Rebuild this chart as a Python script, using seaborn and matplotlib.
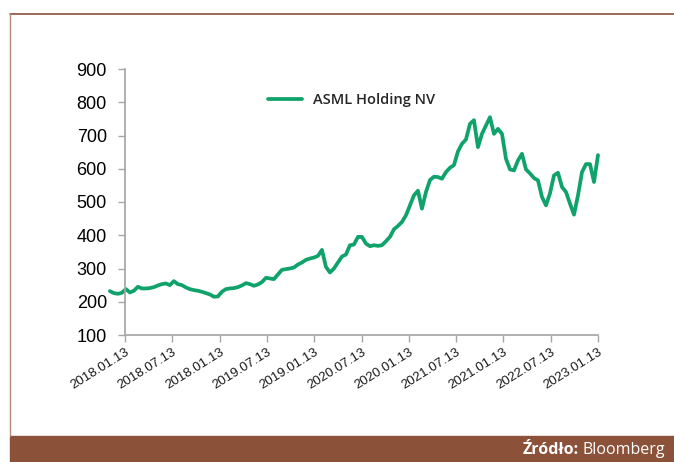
import matplotlib
matplotlib.use("Agg")
import matplotlib.pyplot as plt
from matplotlib.lines import Line2D
from matplotlib.patches import Rectangle
import numpy as np
import pandas as pd
import seaborn as sns

# ASML share price (evenly spaced samples)
price = [
    232, 226, 224, 227, 238, 228, 233, 245, 240, 240,
    241, 244, 249, 253, 255, 250, 262, 253, 250, 243,
    238, 235, 233, 230, 226, 222, 215, 216, 230, 238,
    240, 241, 244, 249, 256, 253, 248, 252, 259, 272,
    270, 268, 282, 296, 298, 300, 303, 312, 318, 326,
    330, 333, 338, 356, 305, 288, 300, 318, 336, 342,
    370, 372, 395, 395, 375, 367, 370, 368, 370, 382,
    395, 418, 428, 440, 460, 490, 520, 534, 480, 530,
    566, 576, 575, 570, 590, 603, 611, 652, 675, 688,
    735, 746, 665, 705, 730, 755, 705, 720, 705, 630,
    598, 595, 625, 645, 598, 586, 572, 565, 515, 490,
    526, 580, 588, 545, 530, 495, 462, 520, 590, 614,
    614, 560, 641,
]
tick_labels = [
    "2018.01.13", "2018.07.13", "2018.01.13", "2019.07.13", "2019.01.13",
    "2020.07.13", "2020.01.13", "2021.07.13", "2021.01.13", "2022.07.13",
    "2023.01.13",
]
y_ticks = [100, 200, 300, 400, 500, 600, 700, 800, 900]
series_name = "ASML Holding NV"
source_label = "Źródło:"
source_name = "Bloomberg"

# the series begins a little before the first labelled date
start_offset = -0.32
last_tick = len(tick_labels) - 1

df = pd.DataFrame({
    "pos": np.linspace(start_offset, last_tick, len(price)),
    "price": price,
})

green = "#0fa36b"
brown = "#8b5139"
axis_grey = "#a6a6a6"

sns.set_theme(style="white")
plt.rcParams["font.family"] = ["Liberation Sans", "DejaVu Sans"]

fig = plt.figure(figsize=(6.74, 4.62), dpi=100)
ax = fig.add_axes([109.4 / 674, 1 - 335 / 462, (598 - 109.4) / 674, 266 / 462])

sns.lineplot(data=df, x="pos", y="price", ax=ax, color=green, linewidth=2.7,
             clip_on=False, legend=False)

ax.set_xlim(start_offset - 0.01, last_tick)
ax.set_ylim(y_ticks[0], y_ticks[-1])
ax.set_xlabel("")
ax.set_ylabel("")

for side in ["top", "right"]:
    ax.spines[side].set_visible(False)
ax.spines["left"].set_position(("data", 0))
ax.spines["left"].set_color(axis_grey)
ax.spines["bottom"].set_color(axis_grey)
ax.spines["bottom"].set_bounds(0, last_tick)

ax.set_yticks(y_ticks)
ax.set_yticklabels([str(v) for v in y_ticks], fontsize=13, color="black")
ax.set_xticks(range(len(tick_labels)))
ax.set_xticklabels(tick_labels, rotation=32, ha="right", rotation_mode="anchor",
                   fontsize=9.5, color="#1a1a1a")
ax.tick_params(axis="both", which="both", direction="out", length=5, width=1,
               color=axis_grey, left=True, bottom=True, pad=3)
ax.tick_params(axis="y", pad=8)

handle = Line2D([0], [0], color=green, linewidth=2.7)
fig.legend([handle], [series_name], loc="center", bbox_to_anchor=(0.522, 0.783),
           frameon=False, handlelength=2.3, handletextpad=0.8,
           prop={"family": "Open Sans", "size": 10.5, "weight": "semibold"})

# outer frame and footer band
fig.add_artist(Line2D([10 / 674, 1], [1 - 14 / 462] * 2, color=brown, linewidth=1.2,
                      transform=fig.transFigure))
fig.add_artist(Line2D([10 / 674] * 2, [26 / 462, 1 - 14 / 462], color="#b58a78",
                      linewidth=1.0, transform=fig.transFigure))
fig.add_artist(Rectangle((10 / 674, 0), 1 - 10 / 674, 26 / 462, color=brown,
                         transform=fig.transFigure))

name_txt = fig.text(665 / 674, 12 / 462, source_name, ha="right", va="center",
                    color="white", fontsize=11.5, family="Open Sans")
fig.canvas.draw()
bbox = name_txt.get_window_extent().transformed(fig.transFigure.inverted())
fig.text(bbox.x0 - 4 / 674, 12 / 462, source_label, ha="right", va="center",
         color="white", fontsize=11.5, family="Open Sans", fontweight="bold")

fig.savefig("out.png", dpi=100)
